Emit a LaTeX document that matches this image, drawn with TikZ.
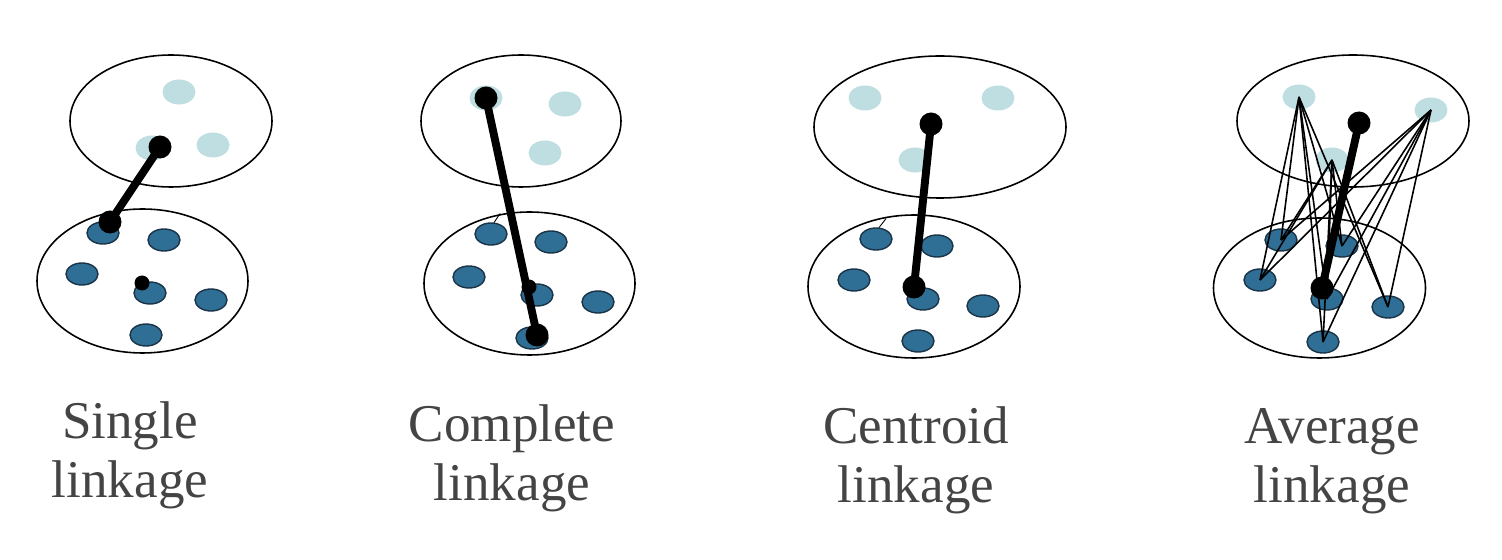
\documentclass[tikz,border=0pt]{standalone}
\usepackage{fontspec}
\setmainfont{Liberation Serif}
\usepackage{xcolor}
\usetikzlibrary{shapes.geometric}
\definecolor{lightpt}{HTML}{BEDEE1}
\definecolor{darkpt}{HTML}{2F6F96}
\definecolor{darkrim}{HTML}{1A3346}
\definecolor{labelgray}{HTML}{444444}
\newdimen\pxu \pxu=0.02cm
\tikzset{
  % Cluster and point styles
  cluster/.style 2 args={ellipse, draw=black, line width=0.9pt, minimum width=#1\pxu, minimum height=#2\pxu, inner sep=0pt},
  upperpt/.style={ellipse, fill=lightpt, minimum width=33\pxu, minimum height=25\pxu, inner sep=0pt},
  lowerpt/.style={ellipse, fill=darkpt, draw=darkrim, line width=0.8pt, minimum width=32\pxu, minimum height=22\pxu, inner sep=0pt},
  linkdot/.style={circle, fill=black, minimum size=23\pxu, inner sep=0pt},
  blob/.style={circle, fill=black, minimum size=15\pxu, inner sep=0pt},
  % Connector styles
  link/.style={line width=4.5pt},
  avgline/.style={line width=0.9pt},
  tick/.style={line width=0.5pt},
  caption/.style={anchor=north, align=center, text=labelgray, font=\fontsize{30.2}{33.6}\selectfont, inner sep=0pt},
}

\begin{document}
\begin{tikzpicture}[x=0.02cm, y=-0.02cm]
    \useasboundingbox (0,0) rectangle (1502,560);
    % Single linkage
    \node[cluster={202}{132}] (single-top) at (171,121) {};
    \node[cluster={211}{144}] (single-bot) at (142.5,281) {};
    \foreach \n/\x/\y in {1/179/92, 2/213/145, 3/152/148}
      \node[upperpt] (single-u\n) at (\x,\y) {};
    \foreach \n/\x/\y in {1/103/233, 2/164/240, 3/82/274, 4/150/293, 5/211/300, 6/146/335}
      \node[lowerpt] (single-l\n) at (\x,\y) {};
    \node[blob] (single-mid) at (142,283) {};
    \node[linkdot] (single-a) at (160,147) {};
    \node[linkdot] (single-b) at (110,222) {};
    \draw[link] (single-a.center) -- (single-b.center);
    \node[caption] (single-cap) at (130,401) {Single\\linkage};
    % Complete linkage
    \node[cluster={200}{132}] (compl-top) at (521,121) {};
    \node[cluster={211}{143}] (compl-bot) at (529.5,283.5) {};
    \foreach \n/\x/\y in {1/486/98, 2/565/104, 3/545/153}
      \node[upperpt] (compl-u\n) at (\x,\y) {};
    \foreach \n/\x/\y in {1/491/234, 2/551/242, 3/469/277, 4/537/295, 5/598/302, 6/532/338}
      \node[lowerpt] (compl-l\n) at (\x,\y) {};
    \draw[tick] (compl-l1.75) -- ++(6,-9);
    \node[blob] (compl-mid) at (529,287) {};
    \node[linkdot] (compl-a) at (486,98) {};
    \node[linkdot] (compl-b) at (537,335) {};
    \draw[link] (compl-a.center) -- (compl-b.center);
    \node[caption] (compl-cap) at (512,404) {Complete\\linkage};
    % Centroid linkage
    \node[cluster={252}{142}] (centr-top) at (940,127) {};
    \node[cluster={212}{143}] (centr-bot) at (914,286.5) {};
    \foreach \n/\x/\y in {1/865/98, 2/998/98, 3/915/160}
      \node[upperpt] (centr-u\n) at (\x,\y) {};
    \foreach \n/\x/\y in {1/876/239, 2/937/246, 3/854/280, 4/923/299, 5/983/306, 6/918/341}
      \node[lowerpt] (centr-l\n) at (\x,\y) {};
    \draw[tick] (centr-l1.75) -- ++(7,-9);
    \node[linkdot] (centr-a) at (931,124) {};
    \node[linkdot] (centr-b) at (914,287) {};
    \draw[link] (centr-a.center) -- (centr-b.center);
    \node[caption] (centr-cap) at (916,406) {Centroid\\linkage};
    % Average linkage
    \node[cluster={232}{132}] (avg-top) at (1353,121) {};
    \node[cluster={212}{140}] (avg-bot) at (1319.5,288) {};
    \foreach \n/\x/\y in {1/1299/97, 2/1431/110, 3/1332/160}
      \node[upperpt] (avg-u\n) at (\x,\y) {};
    \foreach \n/\x/\y in {1/1281/240, 2/1342/246, 3/1260/280, 4/1327/299, 5/1388/307, 6/1323/342}
      \node[lowerpt] (avg-l\n) at (\x,\y) {};
    \foreach \u in {1,2,3}
      \foreach \v in {1,...,6}
        \draw[avgline] (avg-u\u.center) -- (avg-l\v.center);
    \node[linkdot] (avg-a) at (1359,123) {};
    \node[linkdot] (avg-b) at (1322,288) {};
    \draw[link] (avg-a.center) -- (avg-b.center);
    \node[caption] (avg-cap) at (1332,408) {Average\\linkage};
\end{tikzpicture}
\end{document}
